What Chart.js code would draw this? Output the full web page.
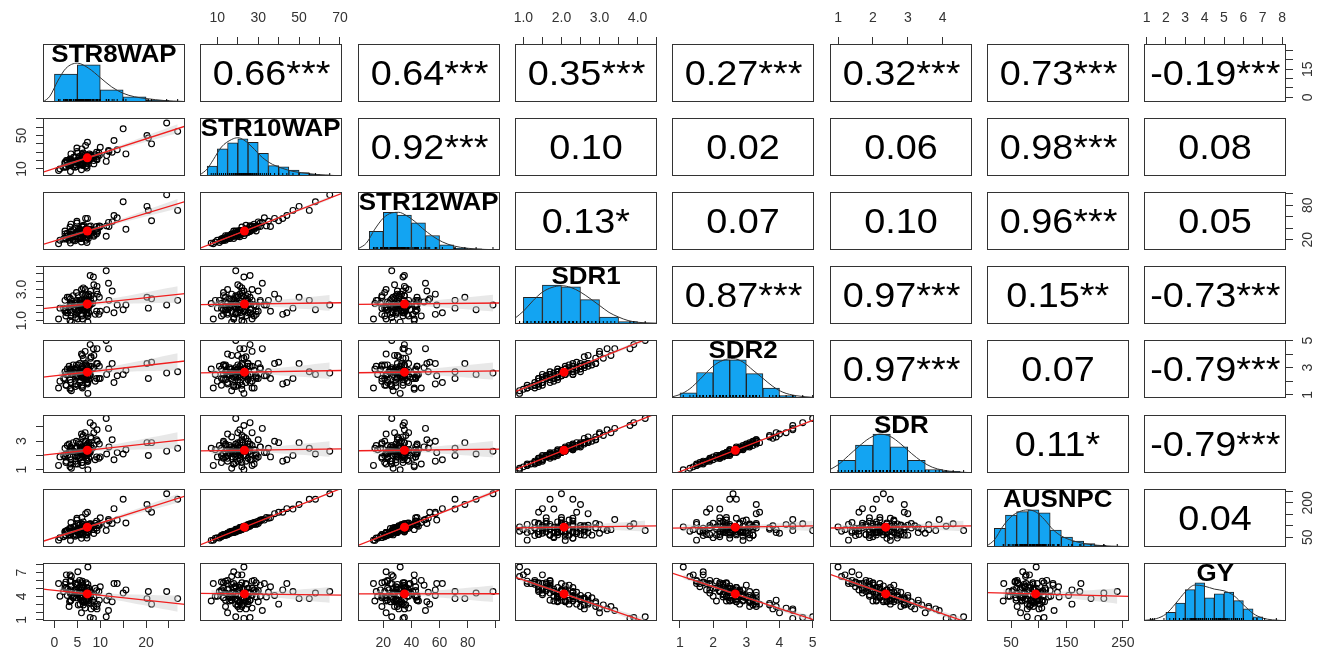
<!DOCTYPE html>
<html>
<head>
<meta charset="utf-8">
<title>pairs panels</title>
<script src="https://cdn.jsdelivr.net/npm/chart.js@4.4.1/dist/chart.umd.min.js"></script>
<style>
  body { margin: 0; background: #fff; }
  #page { position: relative; width: 1319px; height: 650px; overflow: hidden; background: #fff; }
  #page canvas { position: absolute; }
  .cor { position: absolute; display: flex; align-items: center; justify-content: center;
         font-family: 'Liberation Sans', Arial, sans-serif; font-size: 35px; color: #000; }
  .cor span { display: inline-block; transform: scaleX(1.08); }
  .lab { position: absolute; text-align: center; white-space: nowrap;
         font-family: 'Liberation Sans', Arial, sans-serif; font-weight: bold; font-size: 24px; line-height: 24px; color: #000; }
  .lab span { display: inline-block; transform: scaleX(1.08); }
</style>
</head>
<body>
<div id="page"></div>
<script>
var varNames = ['STR8WAP', 'STR10WAP', 'STR12WAP', 'SDR1', 'SDR2', 'SDR', 'AUSNPC', 'GY'];

// observations, same order in every list
var str8wap = [6.0,6.1,2.5,12.6,3.3,5.5,21.2,3.4,5.9,6.7,
  4.9,13.7,3.2,7.3,26.9,6.1,6.9,3.6,7.1,8.5,
  10.0,3.5,7.1,4.8,7.1,20.5,11.3,4.9,0.9,8.0,
  2.3,9.7,6.8,24.5,5.9,2.6,11.4,2.0,6.8,7.5,
  3.7,15.6,1.2,9.3,6.0,6.1,5.5,6.2,13.0,6.3,
  7.4,6.1,2.8,11.8,6.9,6.4,20.2,5.1,7.5,5.1,
  3.5,7.3,4.9,5.7,7.8,3.7,7.2,2.9,9.2,15.0,
  4.8,8.3,2.3,7.8,7.0,3.6,4.6,7.2,5.6,7.6,
  6.0,2.5,9.4,3.5,9.2,6.5,4.6,7.9,7.3,7.9,
  4.5,5.2,7.5,3.6,11.9,3.4,5.9,9.8,4.6,8.6,
  4.2,8.6,6.3,6.2,4.1,8.9,5.6,5.3,5.7,7.8];
var str10wap = [18,25,12,30,21,15,40,22,9,27,
  19,33,14,24,55,17,20,28,11,23,
  36,16,26,13,21,47,19,31,8,24,
  18,29,22,65,15,20,26,12,38,23,
  17,28,10,21,34,19,25,14,44,22,
  16,27,20,32,13,24,50,18,21,29,
  7,23,35,17,26,19,42,15,22,58,
  20,23,17,26,14,21,24,19,16,28,
  22,13,25,18,30,21,15,27,19,23,
  12,20,25,17,31,14,22,26,18,20,
  24,16,29,21,13,27,19,23,15,25];
var str12wap = [30,33,21,51,25,23,53,42,16,38,
  34,58,19,38,71,30,29,47,15,34,
  43,27,34,21,36,71,26,49,13,31,
  35,41,35,98,22,26,44,21,57,27,
  27,38,19,35,44,29,38,27,62,36,
  22,42,31,50,19,45,78,22,32,35,
  14,32,52,25,35,35,57,27,30,86,
  32,31,30,37,23,29,39,29,22,43,
  34,23,33,28,43,28,25,44,28,34,
  18,35,35,29,43,23,31,44,26,28,
  37,26,43,34,19,37,31,33,24,38];
var sdr1 = [1.9,2.1,1.3,2.9,1.9,1.7,2.4,1.0,2.3,3.0,
  1.5,2.0,2.5,1.3,2.3,2.7,1.9,1.3,2.3,3.8,
  1.6,1.9,1.5,2.8,1.7,1.8,4.2,2.2,1.1,2.6,
  2.3,1.4,2.6,2.0,3.0,1.5,1.7,1.8,2.7,2.5,
  0.9,2.0,1.8,3.2,2.0,1.4,2.3,1.9,1.5,3.1,
  1.8,1.1,2.5,3.4,1.4,2.3,2.5,1.1,2.7,1.6,
  2.1,0.9,2.3,2.3,3.9,2.1,1.4,1.5,2.9,1.7,
  2.0,2.1,1.6,2.1,2.2,1.5,1.7,2.6,1.9,2.0,
  1.3,1.7,2.7,2.4,1.6,2.1,1.4,2.3,1.9,2.9,
  2.1,2.6,1.5,2.0,2.3,1.7,1.8,2.5,1.2,3.3,
  1.9,2.4,1.9,1.7,2.6,1.4,2.2,1.6,2.1,2.0];
var sdr2 = [2.3,3.1,1.7,3.3,2.7,1.9,3.4,1.4,2.5,4.2,
  2.3,2.4,3.1,1.9,2.7,3.9,2.1,1.5,3.1,4.4,
  2.2,2.9,1.9,3.2,2.7,2.2,5.0,3.0,1.5,3.8,
  2.7,2.2,3.2,2.6,4.0,1.7,2.5,2.2,3.3,2.7,
  1.3,2.8,2.0,4.4,2.4,1.6,3.3,2.7,1.9,3.7,
  2.4,1.5,2.9,4.4,2.2,2.5,3.3,1.7,3.1,2.4,
  2.9,1.1,2.7,2.9,4.7,2.5,1.8,2.5,3.3,2.5,
  2.4,2.9,2.2,2.5,3.2,1.9,2.3,3.0,2.5,2.8,
  1.7,2.5,3.3,2.8,2.2,2.7,1.8,3.1,2.3,3.7,
  2.9,3.2,2.1,2.6,2.9,2.1,2.6,3.1,1.6,3.9,
  2.7,3.0,2.3,2.3,3.2,2.0,2.8,2.4,2.7,2.4];
var sdr = [2.1,2.6,1.5,3.1,2.3,1.8,2.9,1.2,2.4,3.6,
  1.9,2.2,2.8,1.6,2.5,3.3,2.0,1.4,2.7,4.1,
  1.9,2.4,1.7,3.0,2.2,2.0,4.6,2.6,1.3,3.2,
  2.5,1.8,2.9,2.3,3.5,1.6,2.1,2.0,3.0,2.6,
  1.1,2.4,1.9,3.8,2.2,1.5,2.8,2.3,1.7,3.4,
  2.1,1.3,2.7,3.9,1.8,2.4,2.9,1.4,2.9,2.0,
  2.5,1.0,2.5,2.6,4.3,2.3,1.6,2.0,3.1,2.1,
  2.2,2.5,1.9,2.3,2.7,1.7,2.0,2.8,2.2,2.4,
  1.5,2.1,3.0,2.6,1.9,2.4,1.6,2.7,2.1,3.3,
  2.5,2.9,1.8,2.3,2.6,1.9,2.2,2.8,1.4,3.6,
  2.3,2.7,2.1,2.0,2.9,1.7,2.5,2.0,2.4,2.2];
var ausnpc = [70,106,57,110,88,61,159,83,45,105,
  85,125,61,89,216,70,86,114,46,98,
  135,74,101,59,84,173,79,125,37,100,
  75,106,95,240,67,77,106,52,153,90,
  76,112,48,79,136,75,103,60,175,85,
  69,106,80,127,62,98,193,71,90,109,
  36,95,133,69,109,73,159,67,90,216,
  79,97,73,98,59,91,97,76,71,107,
  89,60,102,74,120,92,62,108,75,91,
  54,84,95,75,121,58,92,101,77,83,
  95,66,117,84,59,111,79,89,66,100];
var gy = [5.1,3.3,5.8,3.3,3.3,6.0,3.0,6.7,4.0,2.5,
  4.2,5.6,2.7,5.5,3.7,3.5,3.4,6.0,4.6,1.2,
  5.2,4.3,4.4,3.8,5.1,4.6,1.4,5.4,5.6,2.4,
  5.1,4.6,3.6,4.6,1.9,6.7,3.5,4.6,4.1,3.6,
  6.5,4.8,4.0,2.4,3.9,5.2,4.5,4.4,5.6,2.9,
  3.4,5.9,4.1,2.2,5.7,3.4,3.7,7.1,3.2,5.7,
  3.4,7.7,4.5,3.9,1.3,5.3,4.8,4.9,2.7,4.4,
  4.7,3.5,5.5,4.5,3.5,4.8,5.6,3.7,3.8,4.7,
  5.7,5.0,3.0,4.5,4.7,3.3,5.6,4.1,4.3,3.1,
  4.8,2.9,5.0,3.5,4.0,5.9,4.9,3.5,5.6,2.7,
  4.0,3.9,3.9,5.4,3.8,5.0,3.0,4.9,4.8,4.0];

// upper panels, row by row
var corRow1 = ['0.66***', '0.64***', '0.35***', '0.27***', '0.32***', '0.73***', '-0.19***'];
var corRow2 = ['0.92***', '0.10', '0.02', '0.06', '0.98***', '0.08'];
var corRow3 = ['0.13*', '0.07', '0.10', '0.96***', '0.05'];
var corRow4 = ['0.87***', '0.97***', '0.15**', '-0.73***'];
var corRow5 = ['0.97***', '0.07', '-0.79***'];
var corRow6 = ['0.11*', '-0.79***'];
var corRow7 = ['0.04'];

// axes
var axisMin = [-2.5, 1.5, 2, 0.78, 0.76, 0.77, 7, 0.87];
var axisMax = [28.5, 71, 103, 4.51, 5.04, 4.84, 261, 8.2];
var tickValues = [[0,5,10,15,20,25], [10,20,30,40,50,60,70], [20,40,60,80,100],
  [1,1.5,2,2.5,3,3.5,4,4.5], [1,2,3,4,5], [1,2,3,4], [50,100,150,200,250], [1,2,3,4,5,6,7,8]];
var xTickLabels = [[0,5,10,20], [10,30,50,70], [20,40,60,80], [1,2,3,4], [1,2,3,4,5], [1,2,3,4], [50,150,250], [1,2,3,4,5,6,7,8]];
var yTickLabels = [[0,15], [10,50], [20,80], [1,3], [1,3,5], [1,3], [50,200], [1,4,7]];
var tickDecimals = [0, 0, 0, 1, 0, 0, 0, 0];

// diagonal: histogram (first break, bin width, bar heights as share of panel) and density
var histStart = [0, 5, 10, 1.0, 1.0, 1.0, 20, 2.0];
var histWidth = [5, 5, 10, 0.5, 0.5, 0.5, 20, 0.5];
var histHeights = [
  [0.48,0.64,0.21,0.09,0.03,0.01],
  [0.17,0.47,0.57,0.64,0.58,0.39,0.18,0.16,0.10,0.06,0.03,0.02,0.01],
  [0.32,0.65,0.60,0.47,0.25,0.09,0.03,0.02,0.01],
  [0.46,0.67,0.64,0.42,0.12,0.04,0.02],
  [0.09,0.44,0.66,0.66,0.42,0.17,0.04,0.01],
  [0.22,0.48,0.67,0.45,0.22,0.06,0.03,0.01],
  [0.32,0.55,0.61,0.64,0.59,0.29,0.17,0.10,0.06,0.03,0.01],
  [0.15,0.31,0.54,0.66,0.40,0.47,0.50,0.35,0.21,0.07]
];
var densityX = [
  [-2.5,-1,0.7,2.5,5,7.5,10,12.5,15,17.5,20,24,28],
  [1.5,5,8,12,17,20,23,27,32,37,42,47,55,63,71],
  [2,8,14,20,26,31,36,42,48,55,62,70,80,92,103],
  [0.78,1.0,1.25,1.5,1.75,2.0,2.25,2.5,2.75,3.0,3.25,3.5,3.75,4.0,4.5],
  [0.76,1.0,1.3,1.6,2.0,2.3,2.6,2.9,3.2,3.5,3.8,4.1,4.5,5.04],
  [0.77,1.0,1.3,1.6,1.9,2.2,2.5,2.8,3.1,3.4,3.7,4.0,4.4,4.84],
  [7,20,35,50,65,80,95,110,125,140,160,180,205,230,261],
  [0.87,1.5,2.0,2.5,3.0,3.5,4.0,4.5,5.0,5.5,6.0,6.5,7.0,7.5,8.2]
];
var densityY = [
  [0,0.1,0.36,0.58,0.67,0.58,0.42,0.26,0.15,0.09,0.06,0.025,0.01],
  [0.02,0.12,0.28,0.5,0.63,0.66,0.62,0.5,0.32,0.2,0.13,0.08,0.04,0.015,0.005],
  [0.02,0.12,0.36,0.55,0.64,0.65,0.6,0.5,0.37,0.24,0.14,0.07,0.03,0.01,0.005],
  [0.1,0.22,0.4,0.55,0.63,0.66,0.63,0.55,0.44,0.32,0.2,0.12,0.06,0.03,0.01],
  [0.02,0.06,0.16,0.32,0.55,0.65,0.68,0.62,0.48,0.34,0.2,0.1,0.04,0.01],
  [0.06,0.14,0.3,0.46,0.6,0.67,0.63,0.5,0.34,0.2,0.1,0.05,0.02,0.005],
  [0.02,0.12,0.35,0.52,0.61,0.64,0.6,0.47,0.3,0.19,0.11,0.06,0.03,0.015,0.005],
  [0.01,0.04,0.12,0.3,0.5,0.62,0.6,0.55,0.52,0.44,0.28,0.13,0.05,0.02,0.005]
];

var PX0 = 43, PY0 = 44, STEPX = 157.3, STEPY = 74.1, PW = 142, PH = 58, M = 34;
var TICK_FONT = "'Liberation Sans Narrow', 'Liberation Sans', Arial, sans-serif";
var HIST_BLUE = '#13A4F2';

var table = [str8wap, str10wap, str12wap, sdr1, sdr2, sdr, ausnpc, gy];
var corText = [corRow1, corRow2, corRow3, corRow4, corRow5, corRow6, corRow7];
var page = document.getElementById('page');
var mctx = document.createElement('canvas').getContext('2d');

function fmt(v, t) { return t.toFixed(tickDecimals[v]); }

function linearFit(xs, ys) {
  var n = xs.length, mx = 0, my = 0;
  for (var i = 0; i < n; i++) { mx += xs[i]; my += ys[i]; }
  mx /= n; my /= n;
  var sxx = 0, sxy = 0;
  for (i = 0; i < n; i++) { sxx += (xs[i] - mx) * (xs[i] - mx); sxy += (xs[i] - mx) * (ys[i] - my); }
  var b = sxy / sxx, a = my - b * mx, rss = 0;
  for (i = 0; i < n; i++) { var e = ys[i] - a - b * xs[i]; rss += e * e; }
  return { n: n, mx: mx, my: my, sxx: sxx, a: a, b: b, s: Math.sqrt(rss / (n - 2)) };
}

var boxPlugin = {
  id: 'box',
  afterDraw: function (chart) {
    var a = chart.chartArea, ctx = chart.ctx;
    ctx.save();
    ctx.strokeStyle = '#333';
    ctx.lineWidth = 1;
    ctx.strokeRect(a.left + 0.5, a.top + 0.5, a.right - a.left - 1, a.bottom - a.top - 1);
    ctx.restore();
  }
};

function axisGrid() {
  return { display: true, drawOnChartArea: false, drawTicks: true, tickLength: 7, color: '#333', tickColor: '#333', offset: false };
}

function xScale(v, pos) {
  return {
    type: 'linear', min: axisMin[v], max: axisMax[v], offset: false,
    display: !!pos, position: pos || 'bottom',
    afterBuildTicks: function (s) { s.ticks = tickValues[v].map(function (t) { return { value: t }; }); },
    afterFit: function (s) { if (pos) s.height = M; },
    grid: axisGrid(), border: { display: false },
    ticks: {
      autoSkip: false, minRotation: 0, maxRotation: 0, padding: pos === 'top' ? 10 : 7, color: '#333',
      font: { family: TICK_FONT, size: 14 },
      callback: function (val) { return xTickLabels[v].indexOf(val) >= 0 ? fmt(v, val) : ''; }
    }
  };
}

function yScale(v, pos) {
  mctx.font = '14px ' + TICK_FONT;
  var widest = 0;
  yTickLabels[v].forEach(function (t) { widest = Math.max(widest, mctx.measureText(fmt(v, t)).width); });
  var pad = (pos === 'left' ? 21 : 22) - 7 - widest / 2;
  return {
    type: 'linear', min: axisMin[v], max: axisMax[v],
    display: !!pos, position: pos || 'left',
    afterBuildTicks: function (s) { s.ticks = tickValues[v].map(function (t) { return { value: t }; }); },
    afterFit: function (s) { if (pos) s.width = M; },
    grid: axisGrid(), border: { display: false },
    ticks: {
      autoSkip: false, minRotation: 90, maxRotation: 90, crossAlign: 'center', padding: pad, color: '#333',
      font: { family: TICK_FONT, size: 14 },
      callback: function (val) { return yTickLabels[v].indexOf(val) >= 0 ? fmt(v, val) : ''; }
    }
  };
}

function scatterSets(r, c) {
  var xs = table[c], ys = table[r];
  var f = linearFit(xs, ys);
  var pts = xs.map(function (x, i) { return { x: x, y: ys[i] }; });
  var lo = Math.min.apply(null, xs), hi = Math.max.apply(null, xs);
  var up = [], dn = [];
  for (var k = 0; k <= 24; k++) {
    var x = lo + (hi - lo) * k / 24;
    var yh = f.a + f.b * x;
    var se = 1.96 * f.s * Math.sqrt(1 / f.n + (x - f.mx) * (x - f.mx) / f.sxx);
    up.push({ x: x, y: yh + se });
    dn.push({ x: x, y: yh - se });
  }
  return [
    { data: [{ x: f.mx, y: f.my }], pointRadius: 4.5, pointBackgroundColor: '#FF0000', pointBorderColor: '#FF0000', pointBorderWidth: 0, clip: 0 },
    { data: [{ x: axisMin[c], y: f.a + f.b * axisMin[c] }, { x: axisMax[c], y: f.a + f.b * axisMax[c] }],
      showLine: true, borderColor: '#F01E1E', borderWidth: 1.3, pointRadius: 0, clip: 0 },
    { data: up, showLine: true, borderColor: 'rgba(0,0,0,0)', borderWidth: 0, pointRadius: 0, fill: '+1', backgroundColor: 'rgba(205,205,205,0.45)', clip: 0 },
    { data: dn, showLine: true, borderColor: 'rgba(0,0,0,0)', borderWidth: 0, pointRadius: 0, fill: false, clip: 0 },
    { data: pts, pointRadius: 2.9, pointBorderWidth: 1.15, pointBorderColor: '#000', pointBackgroundColor: 'rgba(0,0,0,0)', clip: 0 }
  ];
}

function diagSets(v) {
  return [
    { type: 'scatter', data: table[v].map(function (x) { return { x: x, y: 0 }; }),
      pointStyle: 'line', pointRotation: 90, rotation: 90, pointRadius: 3, pointBorderColor: '#000', pointBorderWidth: 1, clip: 0 },
    { type: 'line', data: densityX[v].map(function (x, i) { return { x: x, y: densityY[v][i] }; }),
      borderColor: '#333', borderWidth: 1, pointRadius: 0, cubicInterpolationMode: 'monotone', fill: false, clip: 0 },
    { type: 'bar', data: histHeights[v].map(function (h, i) { return { x: histStart[v] + (i + 0.5) * histWidth[v], y: h }; }),
      backgroundColor: HIST_BLUE, borderColor: '#222', borderWidth: 1, barPercentage: 1, categoryPercentage: 1 }
  ];
}

function addText(cls, bx, by, w, h, text) {
  var d = document.createElement('div');
  d.className = cls;
  d.style.left = bx + 'px'; d.style.top = by + 'px'; d.style.width = w + 'px';
  if (h) d.style.height = h + 'px';
  var s = document.createElement('span');
  s.textContent = text;
  d.appendChild(s);
  page.appendChild(d);
}

function makePanel(r, c) {
  var bx = Math.round(PX0 + c * STEPX), by = Math.round(PY0 + r * STEPY);
  var xPos = (r === 0 && c % 2 === 1) ? 'top' : ((r === 7 && c % 2 === 0) ? 'bottom' : null);
  var yPos = (c === 0 && r % 2 === 1) ? 'left' : ((c === 7 && r % 2 === 0) ? 'right' : null);
  var cv = document.createElement('canvas');
  cv.width = PW + 2 * M; cv.height = PH + 2 * M;
  cv.style.left = (bx - M) + 'px'; cv.style.top = (by - M) + 'px';
  page.appendChild(cv);

  var type = 'scatter', datasets = [], yOpt;
  if (r === c) {
    type = 'bar';
    datasets = diagSets(c);
    yOpt = { type: 'linear', min: 0, max: 1, display: false };
  } else {
    yOpt = yScale(r, yPos);
    if (r > c) datasets = scatterSets(r, c);
  }

  new Chart(cv, {
    type: type,
    data: { datasets: datasets },
    options: {
      responsive: false, animation: false, events: [],
      layout: { autoPadding: false, padding: {
        left: yPos === 'left' ? 0 : M, right: yPos === 'right' ? 0 : M,
        top: xPos === 'top' ? 0 : M, bottom: xPos === 'bottom' ? 0 : M } },
      plugins: { legend: { display: false }, tooltip: { enabled: false } },
      scales: { x: xScale(c, xPos), y: yOpt }
    },
    plugins: [boxPlugin]
  });

  if (r === c) addText('lab', bx, by - 2, PW, 0, varNames[c]);
  if (r < c) addText('cor', bx, by, PW, PH, corText[r][c - r - 1]);
}

for (var r = 0; r < 8; r++) {
  for (var c = 0; c < 8; c++) makePanel(r, c);
}
</script>
</body>
</html>
